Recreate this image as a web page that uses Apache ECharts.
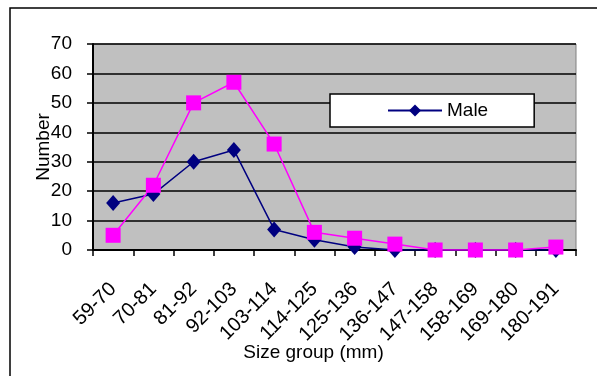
<!DOCTYPE html>
<html>
<head>
<meta charset="utf-8">
<script src="https://cdn.jsdelivr.net/npm/echarts@6/dist/echarts.min.js"></script>
<style>
  html, body { margin: 0; padding: 0; background: #fff; }
  #chart { width: 597px; height: 376px; }
</style>
</head>
<body>
<div id="chart"></div>
<script>
// size groups (mm)
var categories = ["59-70", "70-81", "81-92", "92-103", "103-114", "114-125",
  "125-136", "136-147", "147-158", "158-169", "169-180", "180-191"];
// counts
var maleValues = [16, 19, 30, 34, 7, 3.5, 1, 0, 0, 0, 0, 0];
var otherValues = [5, 22, 50, 57, 36, 6, 4, 2, 0, 0, 0, 1];
var yTicks = [0, 10, 20, 30, 40, 50, 60, 70];

var font = "Arial, 'Liberation Sans', sans-serif";
var chart = echarts.init(document.getElementById("chart"));

var option = {
  animation: false,
  backgroundColor: "#fff",
  graphic: [
    {
      // outer chart frame, clipped on right and bottom
      type: "rect",
      z: -1,
      shape: { x: 10, y: 8, width: 620, height: 400 },
      style: { fill: "none", stroke: "#000", lineWidth: 1.5 },
    },
  ],
  grid: {
    left: 93,
    top: 44,
    right: 21,
    bottom: 126,
    show: true,
    backgroundColor: "#c0c0c0",
    borderColor: "#808080",
    borderWidth: 1,
  },
  legend: {
    data: ["Male"],
    left: 330,
    top: 94,
    padding: [7, 46, 7, 57],
    backgroundColor: "#fff",
    borderColor: "#000",
    borderWidth: 1.5,
    itemWidth: 54,
    itemHeight: 15,
    itemGap: 6,
    textStyle: { fontFamily: font, fontSize: 19, color: "#000" },
  },
  xAxis: {
    type: "category",
    data: categories,
    name: "Size group (mm)",
    nameLocation: "middle",
    nameGap: 93,
    nameMoveOverlap: false,
    nameTextStyle: { fontFamily: font, fontSize: 19, color: "#000", padding: [0, 42, 0, 0] },
    axisLine: { lineStyle: { color: "#000", width: 2 } },
    axisTick: { show: true, length: 6, lineStyle: { color: "#000", width: 1.5 } },
    axisLabel: {
      interval: 0,
      rotate: 45,
      margin: 36,
      fontFamily: font,
      fontSize: 20,
      color: "#000",
    },
  },
  yAxis: {
    type: "value",
    min: yTicks[0],
    max: yTicks[yTicks.length - 1],
    interval: 10,
    name: "Number",
    nameLocation: "middle",
    nameGap: 40,
    nameMoveOverlap: false,
    nameTextStyle: { fontFamily: font, fontSize: 19, color: "#000" },
    axisLine: { show: true, lineStyle: { color: "#000", width: 2 } },
    axisTick: { show: true, length: 6, lineStyle: { color: "#000", width: 1.5 } },
    axisLabel: { margin: 21, fontFamily: font, fontSize: 19, color: "#000" },
    splitLine: { lineStyle: { color: "#000", width: 1.5 } },
  },
  series: [
    {
      name: "Male",
      type: "line",
      data: maleValues,
      symbol: "diamond",
      symbolSize: [14, 16],
      color: "#000080",
      lineStyle: { color: "#000080", width: 1.5 },
      itemStyle: { color: "#000080" },
    },
    {
      name: "",
      type: "line",
      data: otherValues,
      symbol: "rect",
      symbolSize: 15,
      color: "#ff00ff",
      lineStyle: { color: "#ff00ff", width: 1.5 },
      itemStyle: { color: "#ff00ff" },
    },
  ],
};

chart.setOption(option);
</script>
</body>
</html>
